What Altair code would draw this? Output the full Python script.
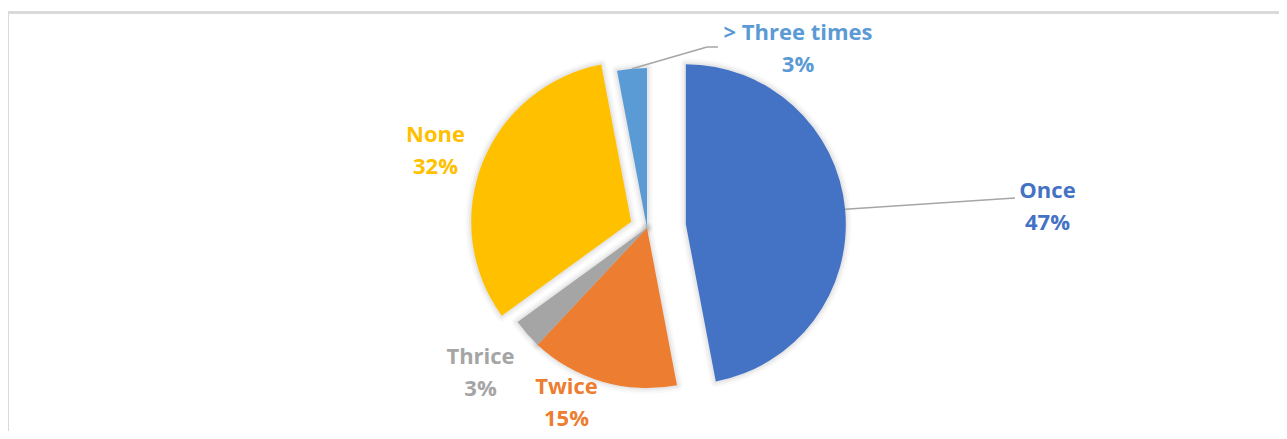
import math
import altair as alt
import pandas as pd

# ---- data ----
categories = ["Once", "Twice", "Thrice", "None", "> Three times"]
values = [47, 15, 3, 32, 3]
colors = ["#4472C4", "#ED7D31", "#A5A5A5", "#FFC000", "#5B9BD5"]

# ---- layout / style ----
W, H = 1271, 423
CX, CY = 639, 220          # pie centre (px)
R = 160                    # pie radius (px)
EXPLODE = {"Once": 39, "None": 17}
LABEL_POS = {              # label positions (px): centre x, first-line middle y
    "Once": (1039.5, 182.5),
    "> Three times": (790, 25),
    "None": (427.5, 127),
    "Thrice": (472.5, 348.5),
    "Twice": (558.5, 378.5),
}
LEADER_ENDS = {            # leader polylines, after the arc point
    "Once": [(1007, 190)],
    "> Three times": [(699, 39), (710, 39)],
}
FONT = "Open Sans"
FS = 22
LH = 32

slices = pd.DataFrame({"category": categories, "value": values, "order": list(range(len(values)))})

explode_expr = " : ".join(
    [f"datum.category === '{k}' ? {v}" for k, v in EXPLODE.items()] + ["0"]
)

base = (
    alt.Chart(slices)
    .transform_joinaggregate(total="sum(value)")
    .transform_window(cum="sum(value)", sort=[alt.SortField("order")], frame=[None, 0])
    .transform_calculate(
        t0="2*PI*(datum.cum - datum.value)/datum.total",
        t1="2*PI*datum.cum/datum.total",
        mid="PI*(2*datum.cum - datum.value)/datum.total",
    )
    .transform_calculate(ex=explode_expr)
    .transform_calculate(
        cx=f"{CX} + datum.ex*sin(datum.mid)",
        cy=f"{CY} - datum.ex*cos(datum.mid)",
    )
)

enc = dict(
    x=alt.X("cx:Q", scale=None, axis=None),
    y=alt.Y("cy:Q", scale=None, axis=None),
    theta=alt.Theta("t0:Q", scale=None),
    theta2=alt.Theta2("t1:Q"),
)

shadows = [
    base.mark_arc(outerRadius=R, fillOpacity=0, stroke="#000", strokeWidth=sw,
                  strokeOpacity=so, strokeJoin="round").encode(**enc)
    for sw, so in [(12, 0.02), (8, 0.03), (4, 0.045)]
]

pie = base.mark_arc(outerRadius=R, stroke=None).encode(
    **enc,
    color=alt.Color("category:N", scale=alt.Scale(domain=categories, range=colors), legend=None),
)

# ---- leader lines ----
total = sum(values)
cum = 0
mids = {}
for c, v in zip(categories, values):
    mids[c] = 2 * math.pi * (cum + v / 2) / total
    cum += v

seg_rows = []
for c, ends in LEADER_ENDS.items():
    a = mids[c]
    d = EXPLODE.get(c, 0) + R
    pts = [(CX + d * math.sin(a), CY - d * math.cos(a))] + ends
    for (x1, y1), (x2, y2) in zip(pts[:-1], pts[1:]):
        seg_rows.append({"category": c, "x1": x1, "y1": y1, "x2": x2, "y2": y2})
segs = pd.DataFrame(seg_rows)

leaders = alt.Chart(segs).mark_rule(color="#A6A6A6", strokeWidth=1.5).encode(
    x=alt.X("x1:Q", scale=None, axis=None),
    y=alt.Y("y1:Q", scale=None, axis=None),
    x2="x2:Q",
    y2="y2:Q",
)

# ---- labels ----
labels_df = pd.DataFrame({
    "category": categories,
    "text": [f"{c}\n{v}%" for c, v in zip(categories, values)],
    "lx": [LABEL_POS[c][0] for c in categories],
    "ly": [LABEL_POS[c][1] for c in categories],
})
labels = alt.Chart(labels_df).mark_text(
    font=FONT, fontSize=FS, fontWeight="bold", lineBreak="\n", lineHeight=LH,
    align="center", baseline="middle",
).encode(
    x=alt.X("lx:Q", scale=None, axis=None),
    y=alt.Y("ly:Q", scale=None, axis=None),
    text="text:N",
    color=alt.Color("category:N", scale=alt.Scale(domain=categories, range=colors), legend=None),
)

# ---- chart-area frame (top and left edges visible) ----
frame_top = alt.Chart(slices).mark_rule(color="#D9D9D9", strokeWidth=2).encode(
    x=alt.value(0), x2=alt.value(W), y=alt.value(4.5)
)
frame_left = alt.Chart(slices).mark_rule(color="#D9D9D9", strokeWidth=2).encode(
    x=alt.value(0), y=alt.value(3.5), y2=alt.value(H)
)

chart = (
    alt.layer(frame_top, frame_left, *shadows, pie, leaders, labels)
    .properties(width=W, height=H, padding=0, autosize=alt.AutoSizeParams(type="none"))
    .configure_view(strokeWidth=0)
)

chart.save("out.html", embed_options={"renderer": "svg", "actions": False})
